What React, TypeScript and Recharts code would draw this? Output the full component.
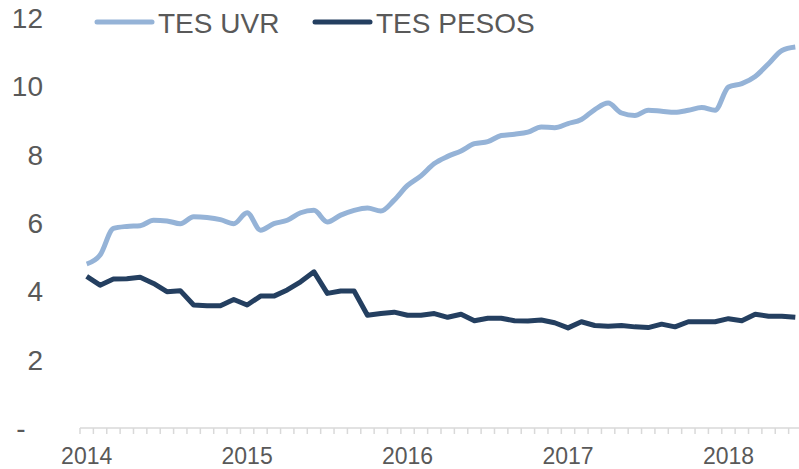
import React from 'react';
import { Legend, Line, LineChart, XAxis, YAxis } from 'recharts';

const YEARS = ['2014', '2015', '2016', '2017', '2018'];
const MONTHS = ['01', '02', '03', '04', '05', '06', '07', '08', '09', '10', '11', '12'];

// monthly periods Jan 2014 .. Jun 2018
const periods = YEARS.flatMap((y) => MONTHS.map((m) => `${y}-${m}`)).slice(0, 54);

const tesUvr = [
  4.8, 5.06, 5.84, 5.9, 5.92, 6.08, 6.06, 5.98, 6.18, 6.16, 6.1, 5.98,
  6.3, 5.79, 5.98, 6.08, 6.3, 6.37, 6.03, 6.23, 6.37, 6.44, 6.35, 6.67,
  7.1, 7.38, 7.74, 7.95, 8.11, 8.32, 8.38, 8.56, 8.6, 8.66, 8.81, 8.79,
  8.91, 9.03, 9.32, 9.51, 9.22, 9.15, 9.3, 9.27, 9.24, 9.3, 9.38, 9.3,
  9.98, 10.08, 10.29, 10.66, 11.05, 11.15,
];

const tesPesos = [
  4.44, 4.18, 4.36, 4.37, 4.41, 4.23, 3.99, 4.02, 3.6, 3.58, 3.58, 3.76,
  3.6, 3.86, 3.86, 4.04, 4.28, 4.57, 3.94, 4.01, 4.01, 3.3, 3.35, 3.39,
  3.3, 3.3, 3.35, 3.24, 3.33, 3.14, 3.21, 3.21, 3.14, 3.13, 3.16, 3.08,
  2.93, 3.11, 3.0, 2.98, 3.0, 2.96, 2.94, 3.04, 2.96, 3.11, 3.11, 3.11,
  3.2, 3.14, 3.33, 3.27, 3.27, 3.24,
];

const yTicks = [0, 2, 4, 6, 8, 10, 12];

const rows = periods.map((p, i) => ({ period: p, uvr: tesUvr[i], pesos: tesPesos[i] }));

const UVR_COLOR = '#95b3d7';
const PESOS_COLOR = '#243f60';
const TEXT_COLOR = '#595959';
const AXIS_COLOR = '#d9d9d9';
const FONT = 'Arial, "Liberation Sans", sans-serif';

const CHART_W = 810;
const CHART_H = 469;
const MARGIN = { top: 18, right: 8, bottom: 0, left: 0 };
const Y_W = 80;
const BAND = (CHART_W - MARGIN.left - MARGIN.right - Y_W) / periods.length;

function YTick({ y, payload }: any) {
  if (payload.value === 0) {
    return (
      <text x={21} y={y} dy="0.355em" textAnchor="middle" fontSize={28} fill={TEXT_COLOR} fontFamily={FONT}>
        -
      </text>
    );
  }
  return (
    <text x={43} y={y} dy="0.355em" textAnchor="end" fontSize={28} fill={TEXT_COLOR} fontFamily={FONT}>
      {payload.value}
    </text>
  );
}

function XTick({ x, y, payload }: any) {
  const [year, month] = String(payload.value).split('-');
  const left = x - BAND / 2;
  return (
    <g>
      <line x1={left} x2={left} y1={y} y2={y + 6} stroke={AXIS_COLOR} strokeWidth={1.5} />
      {month === '01' && (
        <text x={x} y={y + 36} textAnchor="middle" fontSize={23} fill={TEXT_COLOR} fontFamily={FONT}>
          {year}
        </text>
      )}
    </g>
  );
}

function LegendBox() {
  const items = [
    { label: 'TES UVR', color: UVR_COLOR, x: 97 },
    { label: 'TES PESOS', color: PESOS_COLOR, x: 315 },
  ];
  return (
    <svg width={799} height={45} style={{ display: 'block' }}>
      {items.map((it) => (
        <g key={it.label}>
          <line x1={it.x} x2={it.x + 55} y1={22} y2={22} stroke={it.color} strokeWidth={5} strokeLinecap="round" />
          <text x={it.x + 61} y={33} fontSize={28} fill={TEXT_COLOR} fontFamily={FONT}>
            {it.label}
          </text>
        </g>
      ))}
    </svg>
  );
}

export default function App() {
  return (
    <div
      style={{
        position: 'absolute',
        left: 0,
        top: 0,
        width: 799,
        height: 469,
        overflow: 'hidden',
        background: '#fff',
      }}
    >
      <LineChart width={CHART_W} height={CHART_H} data={rows} margin={MARGIN}>
        <XAxis
          dataKey="period"
          scale="band"
          interval={0}
          tick={<XTick />}
          tickLine={false}
          tickSize={0}
          tickMargin={0}
          height={41}
          stroke={AXIS_COLOR}
          strokeWidth={1.5}
        />
        <YAxis
          domain={[0, 12]}
          ticks={yTicks}
          width={Y_W}
          axisLine={false}
          tickLine={false}
          tick={<YTick />}
        />
        <Legend
          verticalAlign="middle"
          align="center"
          wrapperStyle={{ top: 0, left: 0 }}
          content={() => <LegendBox />}
        />
        <Line
          type="monotone"
          dataKey="uvr"
          name="TES UVR"
          stroke={UVR_COLOR}
          strokeWidth={5}
          dot={false}
          isAnimationActive={false}
        />
        <Line
          type="linear"
          dataKey="pesos"
          name="TES PESOS"
          stroke={PESOS_COLOR}
          strokeWidth={5}
          strokeLinejoin="round"
          dot={false}
          isAnimationActive={false}
        />
      </LineChart>
    </div>
  );
}
